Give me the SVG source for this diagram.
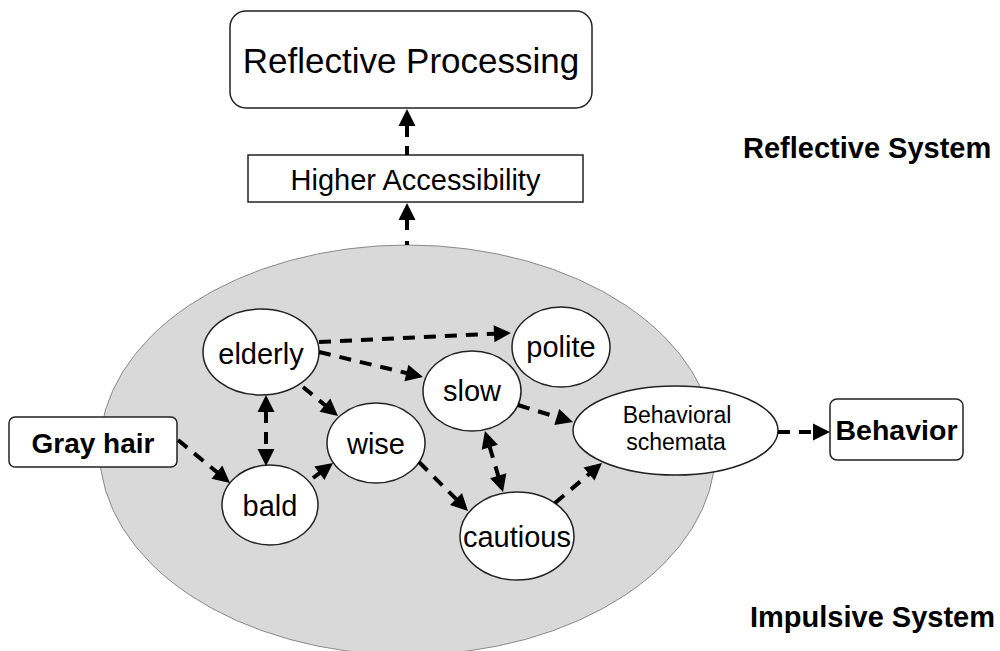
<svg xmlns="http://www.w3.org/2000/svg" width="1000" height="651" viewBox="0 0 1000 651">
<style>
text{font-family:"Liberation Sans",Arial,sans-serif;fill:#000}
.node{fill:#fff;stroke:#222;stroke-width:1.5}
.lbl{font-size:29px;text-anchor:middle}
.bold{font-weight:bold}
.conn line{stroke:#000;stroke-width:4;stroke-dasharray:12 9;fill:none}
</style>
<defs>
<marker id="ah" markerUnits="userSpaceOnUse" markerWidth="20" markerHeight="20" viewBox="-2 -10 20 20" refX="0" refY="0" orient="auto-start-reverse">
<path d="M-1,-8.5 L16,0 L-1,8.5 z" fill="#000"/>
</marker>
</defs>
<rect width="1000" height="651" fill="#fff"/>
<g id="impulsive-area">
<ellipse cx="407.5" cy="450" rx="308" ry="205" fill="#d9d9d9" stroke="#8a8a8a" stroke-width="1"/>
</g>
<g id="reflective-processing">
<rect class="node" x="230" y="11" width="362" height="97" rx="16"/>
<text x="411" y="73" style="font-size:35px;text-anchor:middle">Reflective Processing</text>
</g>
<g id="higher-accessibility">
<rect class="node" x="248" y="155" width="335" height="47"/>
<text x="415.5" y="190" class="lbl">Higher Accessibility</text>
</g>
<g id="reflective-system-label">
<text x="743" y="158" class="bold" style="font-size:29px">Reflective System</text>
</g>
<g id="impulsive-system-label">
<text x="750" y="627" class="bold" style="font-size:29px">Impulsive System</text>
</g>
<g id="gray-hair">
<rect class="node" x="9" y="417" width="168" height="50" rx="6"/>
<text x="93" y="453" class="lbl bold" style="font-size:28px">Gray hair</text>
</g>
<g id="elderly">
<ellipse class="node" cx="261" cy="352" rx="58" ry="43"/>
<text x="261" y="364" class="lbl">elderly</text>
</g>
<g id="bald">
<ellipse class="node" cx="270" cy="505" rx="48" ry="40"/>
<text x="270" y="516" class="lbl">bald</text>
</g>
<g id="wise">
<ellipse class="node" cx="376" cy="443" rx="49" ry="40"/>
<text x="376" y="454" class="lbl">wise</text>
</g>
<g id="polite">
<ellipse class="node" cx="561" cy="347" rx="49" ry="40"/>
<text x="561" y="357" class="lbl">polite</text>
</g>
<g id="slow">
<ellipse class="node" cx="472" cy="391" rx="49" ry="40"/>
<text x="472" y="401" class="lbl">slow</text>
</g>
<g id="cautious">
<ellipse class="node" cx="517" cy="536" rx="57" ry="44"/>
<text x="517" y="547" class="lbl">cautious</text>
</g>
<g id="behavioral-schemata">
<ellipse class="node" cx="675.5" cy="430.5" rx="102.5" ry="44.5"/>
<text x="677" y="423" style="font-size:23px;text-anchor:middle">Behavioral</text>
<text x="676" y="450" style="font-size:23px;text-anchor:middle">schemata</text>
</g>
<g id="behavior">
<rect class="node" x="830" y="399" width="133" height="61" rx="7"/>
<text x="896.5" y="440" class="lbl bold" style="font-size:28.5px">Behavior</text>
</g>
<g id="connectors" class="conn">
<line x1="407" y1="125" x2="407" y2="155" marker-start="url(#ah)"/>
<line x1="407" y1="219" x2="407" y2="245" style="stroke-dasharray:11 11" marker-start="url(#ah)"/>
<line x1="178" y1="440" x2="217.7" y2="472.8" marker-end="url(#ah)"/>
<line x1="266" y1="411" x2="266" y2="450" marker-start="url(#ah)" marker-end="url(#ah)"/>
<line x1="303" y1="387" x2="325.7" y2="405.8" marker-end="url(#ah)"/>
<line x1="313" y1="478" x2="320.2" y2="472.6" marker-end="url(#ah)"/>
<line x1="319" y1="342" x2="495" y2="333.7" marker-end="url(#ah)"/>
<line x1="319" y1="352" x2="407.4" y2="373.3" marker-end="url(#ah)"/>
<line x1="419" y1="462" x2="456.7" y2="499.7" marker-end="url(#ah)"/>
<line x1="489.5" y1="446.3" x2="498.5" y2="476.7" marker-start="url(#ah)" marker-end="url(#ah)"/>
<line x1="518" y1="405" x2="557.7" y2="417.3" marker-end="url(#ah)"/>
<line x1="555" y1="503" x2="589.8" y2="473.4" marker-end="url(#ah)"/>
<line x1="778" y1="432" x2="814" y2="432" marker-end="url(#ah)"/>
</g>
</svg>
